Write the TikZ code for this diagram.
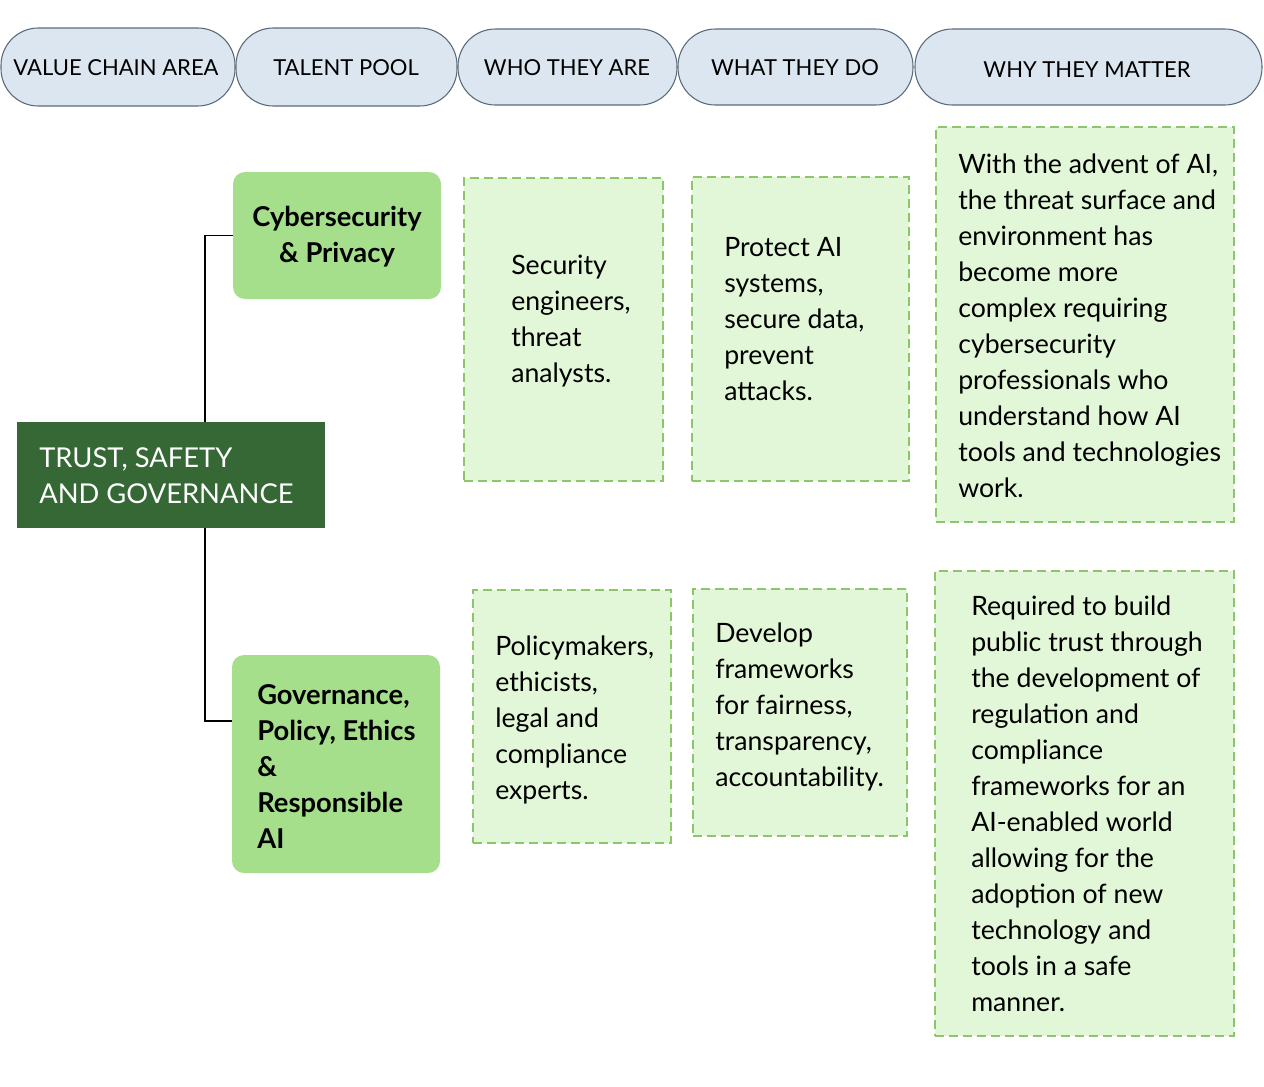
\documentclass[tikz,border=0pt]{standalone}
\usepackage{fontspec}
\setmainfont{Lato}
\usetikzlibrary{fit}
\definecolor{hdrfill}{HTML}{DCE6F0}
\definecolor{hdrline}{HTML}{5B6B7B}
\definecolor{dkgreen}{HTML}{356834}
\definecolor{ltgreen}{HTML}{A6DF8C}
\definecolor{pale}{HTML}{E2F7D7}
\definecolor{dashgreen}{HTML}{8DC56C}
\begin{document}
\begin{tikzpicture}[x=0.75pt,y=-0.75pt,
 hdr/.style={draw=hdrline, fill=hdrfill, rounded corners=28pt, inner sep=0pt, line width=0.8pt},
 hdrtext/.style={inner sep=0pt, font=\fontsize{16.5}{20}\selectfont},
 cat/.style={fill=ltgreen, rounded corners=9pt, inner sep=0pt},
 cattext/.style={inner sep=0pt, font=\bfseries\fontsize{20.5}{27}\selectfont},
 card/.style={draw=dashgreen, fill=pale, dash pattern=on 6.5pt off 4pt, line width=0.9pt, inner sep=0pt},
 body/.style={anchor=west, align=left, inner sep=0pt, font=\fontsize{20}{27}\selectfont},
 link/.style={draw=black, line width=0.8pt},
]
\useasboundingbox (0,0) rectangle (1264,1086);

% headers
\node[hdr, fit={(1,28) (235,106)}] (h1) {};
\node[hdr, fit={(236,28) (457,106)}] (h2) {};
\node[hdr, fit={(458,29) (677,105)}] (h3) {};
\node[hdr, fit={(678,29) (913,105)}] (h4) {};
\node[hdr, fit={(915,29) (1262,105)}] (h5) {};
\node[hdrtext] (h1t) at (116,68) {VALUE CHAIN AREA};
\node[hdrtext] (h2t) at (346,68) {TALENT POOL};
\node[hdrtext] (h3t) at (567,68) {WHO THEY ARE};
\node[hdrtext] (h4t) at (795,68) {WHAT THEY DO};
\node[hdrtext] (h5t) at (1087,70) {WHY THEY MATTER};

% main node
\node[fill=dkgreen, inner sep=0pt, fit={(17,422) (325,528)}] (main) {};
\node[anchor=west, align=left, text=white, inner sep=0pt, font=\fontsize{20.5}{27}\selectfont] (maintxt) at (39,476) {TRUST, SAFETY\\AND GOVERNANCE};

% categories
\node[cat, fit={(233,172) (441,299)}] (cyber) {};
\node[cattext, align=center] (cybertxt) at (337,237) {Cybersecurity\\\& Privacy};
\node[cat, fit={(232,655) (440,873)}] (gov) {};
\node[cattext, anchor=west, align=left] (govtxt) at (257,766) {Governance,\\Policy, Ethics\\\&\\Responsible\\AI};

% connectors
\coordinate (trunk) at (205,0);
\coordinate (govin) at (232,721);
\draw[link] (main.north -| trunk) |- (cyber.west);
\draw[link] (main.south -| trunk) |- (govin);

% cards row 1
\node[card, fit={(464,178) (663,481)}] (who1) {};
\node[body] (who1t) at (511,321) {Security\\engineers,\\threat\\analysts.};
\node[card, fit={(692,177) (909,481)}] (what1) {};
\node[body] (what1t) at (724,319) {Protect AI\\systems,\\secure data,\\prevent\\attacks.};
\node[card, fit={(936,127) (1234,522)}] (why1) {};
\node[body] (why1t) at (958,326) {With the advent of AI,\\the threat surface and\\environment has\\become more\\complex requiring\\cybersecurity\\professionals who\\understand how AI\\tools and technologies\\work.};

% cards row 2
\node[card, fit={(473,590) (671,843)}] (who2) {};
\node[body] (who2t) at (495,720) {Policymakers,\\ethicists,\\legal and\\compliance\\experts.};
\node[card, fit={(693,589) (907,836)}] (what2) {};
\node[body] (what2t) at (715,707) {Develop\\frameworks\\for fairness,\\transparency,\\accountability.};
\node[card, fit={(935,571) (1234,1036)}] (why2) {};
\node[body] (why2t) at (971,804) {Required to build\\public trust through\\the development of\\regulation and\\compliance\\frameworks for an\\AI-enabled world\\allowing for the\\adoption of new\\technology and\\tools in a safe\\manner.};
\end{tikzpicture}
\end{document}
